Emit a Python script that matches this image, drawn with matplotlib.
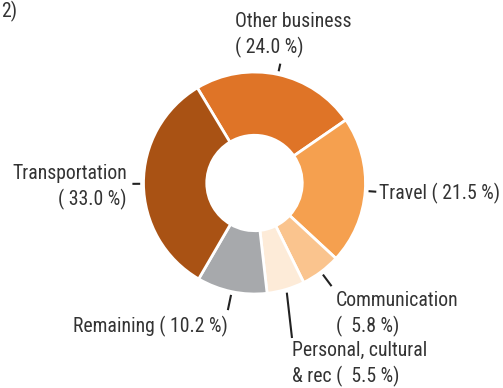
import matplotlib
matplotlib.use("Agg")
import matplotlib.pyplot as plt
import numpy as np

categories = ["Other business", "Travel", "Communication",
              "Personal, cultural\n& rec", "Remaining", "Transportation"]
values = [24.0, 21.5, 5.8, 5.5, 10.2, 33.0]
label_texts = ["Other business\n( 24.0 %)", "Travel ( 21.5 %)",
               "Communication\n(  5.8 %)", "Personal, cultural\n& rec (  5.5 %)",
               "Remaining ( 10.2 %)", "Transportation\n( 33.0 %)"]
colors = ["#DF7427", "#F5A04F", "#FAC48E", "#FDEBD8", "#A7A9AC", "#A95214"]

plt.rcParams['font.family'] = ['Liberation Sans Narrow', 'Roboto Condensed', 'DejaVu Sans']

W, H = 503, 388
fig = plt.figure(figsize=(W / 100, H / 100), dpi=100)
ax = fig.add_axes([0, 0, 1, 1])

cx, cy, R = 254.5, H - 183, 111
wedges, _ = ax.pie(values, colors=colors, startangle=121, counterclock=False,
                   radius=R, center=(cx, cy),
                   wedgeprops=dict(width=R * 0.57, edgecolor="white", linewidth=2))
ax.set_xlim(0, W)
ax.set_ylim(0, H)
ax.set_aspect('auto')
ax.axis('off')

layout = [
    (1.03, 1.10, (293, 35), 'center'),
    (1.03, 1.10, (379, 193), 'left'),
    (1.03, 1.16, (336, 314), 'left'),
    (1.03, (292, 338), (292, 364), 'left'),
    (1.03, 1.17, (228, 326), 'right'),
    (1.03, 1.10, (127, 187), 'right'),
]
tc = "#333333"
for w, txt, (r0, r1, tpos, ha) in zip(wedges, label_texts, layout):
    mid = np.deg2rad((w.theta1 + w.theta2) / 2)
    x0, y0 = cx + R * r0 * np.cos(mid), cy + R * r0 * np.sin(mid)
    if isinstance(r1, tuple):
        x1, y1 = r1[0], H - r1[1]
    else:
        x1, y1 = cx + R * r1 * np.cos(mid), cy + R * r1 * np.sin(mid)
    ax.plot([x0, x1], [y0, y1], color="#222222", lw=1.5, solid_capstyle='butt')
    ax.text(tpos[0], H - tpos[1], txt, ha=ha, va='center', fontsize=14.2, color=tc,
            linespacing=1.35, multialignment='right' if ha == 'right' else 'left')

fig.text(1 / W, 1 - 1 / H, "2)", ha='left', va='top', fontsize=14.2, color=tc)

fig.savefig("out.png", dpi=100)
